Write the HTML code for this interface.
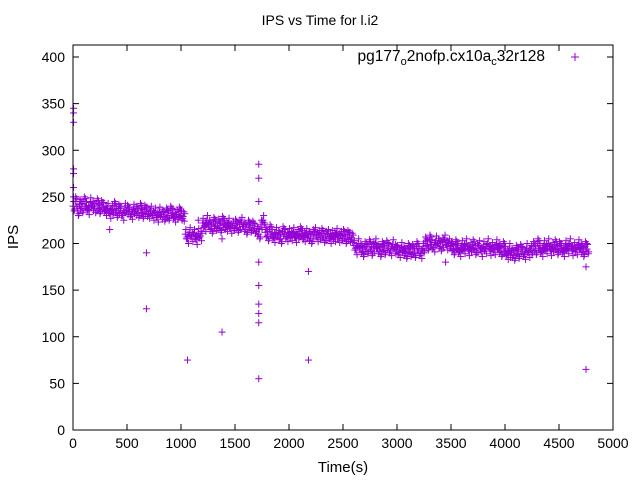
<!DOCTYPE html>
<html><head><meta charset="utf-8"><style>
body{margin:0;background:#fff}
svg{display:block;font-family:"Liberation Sans",sans-serif}
</style></head><body>
<svg id="chart" width="640" height="480" viewBox="0 0 640 480">
<rect x="0" y="0" width="640" height="480" fill="#fff"/>
<text x="320" y="25" font-size="14" text-anchor="middle">IPS vs Time for l.i2</text>
<text x="343" y="472" font-size="15" text-anchor="middle">Time(s)</text>
<text x="18" y="237" font-size="15" text-anchor="middle" transform="rotate(-90 18 237)">IPS</text>
<g id="axes"></g>
<g id="marks"></g>
<text x="545" y="61" font-size="15.5" text-anchor="end">pg177<tspan font-size="11" dy="4">o</tspan><tspan dy="-4">2nofp.cx10a</tspan><tspan font-size="11" dy="4">c</tspan><tspan dy="-4">32r128</tspan></text>
<g stroke="#9400d3" stroke-width="1"><line x1="571" y1="57" x2="579" y2="57"/><line x1="575" y1="53" x2="575" y2="61"/></g>
<rect x="73" y="45" width="540" height="385" fill="none" stroke="#000" stroke-width="1"/>
</svg>
<script>
const xTicks=[0,500,1000,1500,2000,2500,3000,3500,4000,4500,5000];
const yTicks=[0,50,100,150,200,250,300,350,400];
const step=20;
const bandValues=[240,245,235,242,238,245,240,236,244,240,238,243,237,241,239,
235,238,232,236,240,233,237,235,230,238,236,234,231,237,235,233,238,232,236,234,
232,235,230,233,228,234,231,229,233,230,235,232,228,231,234,230,229,
210,205,212,207,210,204,211,208,
222,218,225,220,216,223,219,221,217,224,220,218,222,216,219,221,217,220,223,218,215,220,217,219,216,213,
210,220,225,
212,208,215,210,206,212,209,205,213,210,207,211,208,212,206,210,213,209,207,211,208,205,210,212,207,209,211,206,208,210,205,209,207,211,206,208,210,205,209,207,206,
198,193,200,195,191,197,194,199,192,196,200,194,191,197,193,198,195,192,199,194,
193,190,196,192,189,195,191,194,190,197,192,189,195,
202,198,204,199,196,203,200,197,201,204,198,200,
197,193,199,195,191,198,194,200,192,196,199,193,195,198,191,197,194,200,192,196,193,199,195,191,197,
192,188,195,190,187,193,189,194,191,188,195,190,193,
197,193,200,195,191,198,194,200,192,196,199,193,197,195,191,198,194,200,192,196,193,199,195,191,197,194];
const outlierTimes=[5,5,5,5,5,5,5,680,680,1060,1380,1380,2180,2180,1720,1720,1720,1720,1720,1720,1720,1720,1720,4750,4750,340,3450,4050,1160];
const outlierValues=[345,330,340,280,275,260,250,190,130,75,105,205,170,75,55,115,125,135,155,180,245,270,285,175,65,215,180,185,225];
const X=v=>73+v*540/5000;
const Y=v=>430-v*373/400;
const NS="http://www.w3.org/2000/svg";
const axes=document.getElementById('axes');
const marks=document.getElementById('marks');
function ln(g,x1,y1,x2,y2,c){const l=document.createElementNS(NS,'line');l.setAttribute('x1',x1);l.setAttribute('y1',y1);l.setAttribute('x2',x2);l.setAttribute('y2',y2);l.setAttribute('stroke',c);l.setAttribute('stroke-width',1);g.appendChild(l);return l;}
xTicks.forEach(t=>{
 const x=X(t);
 const tk=ln(axes,x,430,x,424,'#000');
 
 
 ln(axes,x,45,x,51,'#000');
 const tx=document.createElementNS(NS,'text');
 tx.setAttribute('x',x);tx.setAttribute('y',448);tx.setAttribute('font-size','14');tx.setAttribute('text-anchor','middle');
 
 
 tx.textContent=t;axes.appendChild(tx);
});
yTicks.forEach(t=>{
 const y=Y(t);
 const tk=ln(axes,73,y,79,y,'#000');
 
 
 ln(axes,613,y,607,y,'#000');
 const tx=document.createElementNS(NS,'text');
 tx.setAttribute('x',65);tx.setAttribute('y',y+5);tx.setAttribute('font-size','14');tx.setAttribute('text-anchor','end');
 
 
 tx.textContent=t;axes.appendChild(tx);
});
function plus(t,v){
 const g=document.createElementNS(NS,'g');
 
 
 const x=X(t),y=Y(v);
 ln(g,x-3.5,y,x+3.5,y,'#9400d3');ln(g,x,y-3.5,x,y+3.5,'#9400d3');
 marks.appendChild(g);
}
bandValues.forEach((v,i)=>{
 const t=i*step;
 plus(t,v);plus(t+5,v+5);plus(t+10,v-5);plus(t+15,v+(i%2?3:-3));
});
outlierTimes.forEach((t,i)=>plus(t,outlierValues[i]));
</script>
</body></html>
